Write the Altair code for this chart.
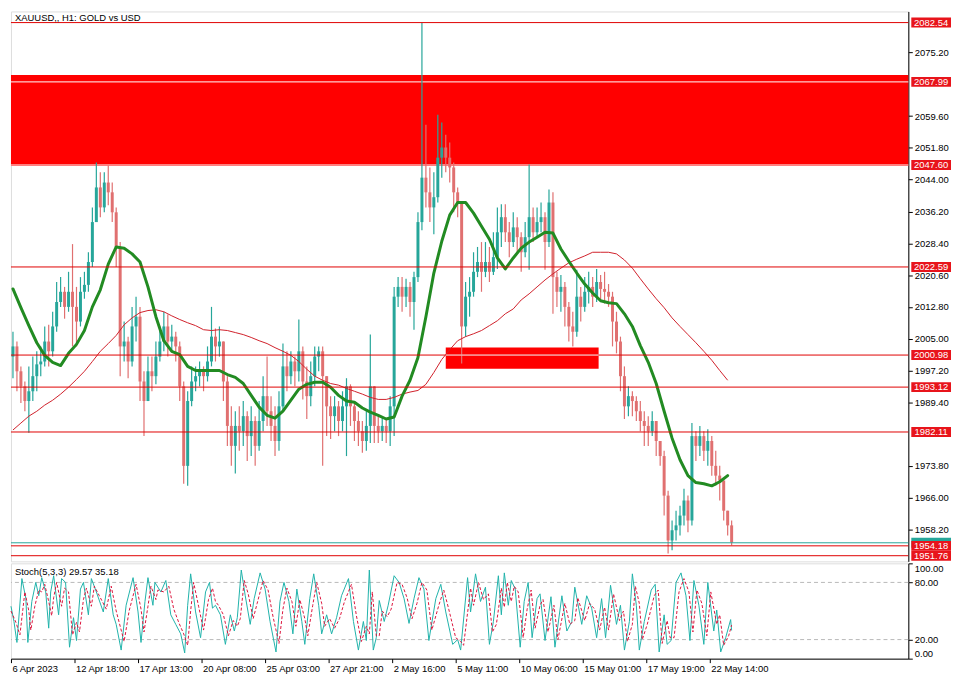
import altair as alt
import pandas as pd

FONT = "Liberation Sans"
UP = "#26A69A"
DOWN = "#E07070"
LVL_RED = "#E00000"
ZONE_RED = "#FF0000"
MA_GREEN = "#228B22"
MA_RED = "#D0202A"

# ---------------- price panel data ----------------
price_domain = [1950.37, 2085.27]
price_ticks = [1958.20, 1966.00, 1973.80, 1989.40, 1997.20, 2005.00, 2012.80, 2020.60,
               2028.40, 2036.20, 2044.00, 2051.80, 2059.60, 2075.20]

first_open = 2000.6
closes = [2003.1, 1997.0, 1993.3, 1989.7, 1992.1, 1995.8, 1998.7, 1999.4, 2004.3, 2001.9,
          2008.0, 2014.0, 2016.5, 2012.8, 2016.5, 2012.8, 2009.2, 2016.5, 2018.2, 2023.8,
          2033.6, 2042.1, 2037.2, 2043.3, 2040.9, 2036.0, 2027.5, 2003.1, 2004.3, 1999.4,
          2008.0, 2010.4, 1994.5, 1989.7, 1997.0, 1995.8, 2000.6, 2004.3, 2008.0, 2004.3,
          2005.5, 2003.1, 1993.3, 1973.8, 1989.7, 1994.5, 1995.8, 1997.0, 1995.8, 1999.4,
          2005.5, 2003.1, 2004.3, 1994.5, 1983.6, 1978.7, 1983.6, 1982.3, 1986.0, 1981.1,
          1984.8, 1978.7, 1984.8, 1990.9, 1987.2, 1983.6, 1979.9, 1988.4, 1998.2, 1995.8,
          1999.4, 1997.0, 2001.9, 1994.5, 1990.9, 1995.8, 2000.6, 2001.9, 1995.8, 1988.4,
          1986.0, 1988.4, 1984.8, 1988.4, 1993.3, 1988.4, 1984.8, 1982.3, 1979.9, 1983.6,
          1993.3, 1983.6, 1982.3, 1983.6, 1982.3, 1988.4, 2015.3, 2017.7, 2015.3, 2017.7,
          2014.0, 2020.1, 2033.6, 2044.5, 2040.9, 2037.2, 2039.7, 2049.4, 2051.9, 2049.4,
          2047.0, 2040.9, 2038.4, 2008.0, 2015.3, 2016.5, 2021.4, 2023.8, 2021.4, 2023.8,
          2021.4, 2025.0, 2031.1, 2034.8, 2031.1, 2028.7, 2032.3, 2029.9, 2026.2, 2029.9,
          2034.8, 2031.1, 2033.6, 2034.8, 2028.7, 2038.4, 2020.1, 2016.5, 2017.7, 2012.8,
          2008.0, 2006.7, 2015.3, 2012.8, 2016.5, 2017.7, 2015.3, 2018.9, 2017.2, 2016.5,
          2015.3, 2009.2, 2004.3, 1995.8, 1988.4, 1990.9, 1989.7, 1987.2, 1984.8, 1983.6,
          1982.3, 1984.8, 1979.9, 1976.2, 1966.5, 1955.5, 1958.0, 1959.2, 1961.6, 1965.3,
          1960.4, 1981.1, 1978.7, 1981.1, 1977.5, 1979.9, 1973.8, 1971.4, 1970.2, 1962.8,
          1959.2, 1955.0]
highs = [2006.7, 2004.3, 1998.2, 1994.5, 1998.2, 2000.6, 2001.9, 2003.1, 2008.0, 2008.4,
         2011.6, 2018.9, 2020.1, 2017.7, 2021.4, 2028.2, 2017.7, 2020.1, 2021.4, 2026.2,
         2037.2, 2048.2, 2045.8, 2045.8, 2047.5, 2043.3, 2037.2, 2028.7, 2009.2, 2005.5,
         2012.8, 2015.3, 2012.8, 1997.0, 2000.6, 2000.6, 2004.3, 2008.0, 2011.6, 2010.9,
         2008.4, 2006.7, 2004.3, 1994.5, 1992.1, 1998.2, 1998.2, 1999.4, 1998.2, 2003.1,
         2012.8, 2007.5, 2008.0, 2004.3, 1995.8, 1988.4, 1987.2, 1988.4, 1989.7, 1987.2,
         1988.4, 1986.0, 1989.7, 1995.8, 2000.6, 1990.9, 1988.4, 1992.1, 2003.8, 2001.9,
         2001.9, 2000.6, 2009.7, 2003.1, 1998.2, 1999.4, 2003.1, 2003.1, 2003.1, 1993.3,
         1990.9, 1990.9, 1989.7, 1992.1, 1995.3, 1993.8, 1989.7, 1987.2, 1984.8, 1987.2,
         2006.0, 1989.7, 1986.0, 1986.0, 1985.5, 1990.9, 2017.7, 2020.1, 2020.1, 2019.7,
         2018.9, 2021.4, 2036.0, 2082.5, 2057.5, 2047.0, 2045.8, 2059.9, 2058.0, 2055.0,
         2053.1, 2048.2, 2042.1, 2038.4, 2018.9, 2020.1, 2026.2, 2027.5, 2028.7, 2028.7,
         2027.5, 2031.1, 2037.2, 2038.0, 2038.0, 2033.6, 2036.0, 2034.8, 2031.1, 2033.6,
         2047.7, 2037.2, 2037.2, 2038.4, 2036.0, 2041.6, 2040.9, 2021.4, 2020.6, 2018.9,
         2014.0, 2011.6, 2021.9, 2017.7, 2020.1, 2021.4, 2020.1, 2022.1, 2020.6, 2021.4,
         2018.4, 2016.5, 2011.6, 2005.5, 1998.2, 1993.3, 1992.1, 1990.9, 1989.7, 1987.2,
         1986.0, 1987.2, 1984.8, 1979.9, 1977.5, 1967.7, 1960.4, 1962.8, 1964.0, 1968.2,
         1966.5, 1984.3, 1982.3, 1983.6, 1982.3, 1982.8, 1981.1, 1977.5, 1973.8, 1965.3,
         1962.8, 1960.4]
lows = [1995.3, 1992.1, 1989.2, 1987.2, 1981.9, 1989.7, 1992.1, 1995.8, 1998.2, 1998.2,
        2000.6, 2006.7, 2012.8, 2009.9, 2011.6, 2003.1, 2003.1, 2008.0, 2014.8, 2016.5,
        2022.6, 2033.6, 2034.8, 2036.0, 2037.7, 2033.6, 2022.6, 1995.8, 1999.4, 1995.3,
        1998.2, 2004.3, 1989.7, 1981.1, 1993.3, 1992.1, 1993.8, 1999.4, 2001.9, 2000.6,
        2001.9, 1999.4, 1989.7, 1969.4, 1968.9, 1988.4, 1992.1, 1993.3, 1992.1, 1994.5,
        1998.2, 1999.4, 2000.6, 1989.7, 1978.7, 1973.8, 1971.9, 1977.5, 1978.7, 1975.0,
        1976.2, 1973.8, 1977.5, 1982.3, 1983.6, 1979.9, 1976.2, 1977.5, 1987.2, 1992.1,
        1993.8, 1993.3, 1994.5, 1990.1, 1985.3, 1988.4, 1993.3, 1997.0, 1973.8, 1981.1,
        1980.4, 1982.3, 1981.1, 1982.3, 1976.2, 1983.6, 1979.9, 1978.7, 1977.0, 1977.5,
        1979.4, 1979.4, 1979.4, 1979.9, 1979.4, 1978.7, 1981.1, 2012.8, 2011.6, 2012.8,
        2010.4, 2007.2, 2018.9, 2031.6, 2037.2, 2033.6, 2030.6, 2038.4, 2044.5, 2045.8,
        2043.3, 2036.0, 2034.8, 1998.9, 2005.5, 2010.4, 2015.3, 2020.1, 2016.5, 2020.1,
        2018.9, 2020.6, 2022.1, 2027.5, 2028.7, 2025.0, 2027.5, 2026.2, 2021.4, 2025.0,
        2021.9, 2028.7, 2029.9, 2031.1, 2021.9, 2027.5, 2011.1, 2012.8, 2011.6, 2008.0,
        2004.3, 2003.1, 2005.5, 2009.2, 2011.6, 2013.6, 2012.8, 2014.0, 2014.0, 2013.6,
        2012.8, 2003.1, 2001.4, 1992.1, 1985.3, 1986.0, 1986.0, 1984.8, 1982.3, 1978.7,
        1978.7, 1981.1, 1976.2, 1973.8, 1961.6, 1952.3, 1953.1, 1955.5, 1956.7, 1959.2,
        1957.5, 1959.2, 1975.0, 1976.2, 1975.0, 1973.8, 1971.4, 1968.9, 1965.3, 1960.4,
        1956.7, 1954.3]

ma_green = [2017.2, 2012.6, 2008.2, 2004.0, 2000.9, 1999.2, 1998.4, 2001.4, 2003.6, 2007.0,
            2012.8, 2017.0, 2023.3, 2027.5, 2027.2, 2025.8, 2023.8, 2017.7, 2010.4, 2004.5,
            2001.9, 2001.1, 1998.2, 1997.2, 1997.2, 1997.2, 1997.2, 1996.2, 1995.5, 1994.0,
            1991.1, 1988.2, 1986.2, 1985.5, 1987.2, 1989.9, 1992.6, 1993.8, 1994.3, 1994.3,
            1993.1, 1991.1, 1989.7, 1989.4, 1988.0, 1987.0, 1986.2, 1985.3, 1985.8, 1990.9,
            1994.8, 2000.4, 2010.4, 2021.1, 2028.9, 2035.3, 2038.4, 2038.4, 2035.8, 2032.6,
            2029.4, 2024.8, 2022.1, 2024.8, 2027.2, 2028.7, 2029.9, 2031.1, 2030.9, 2027.0,
            2024.0, 2021.1, 2018.4, 2016.2, 2014.3, 2013.8, 2013.6, 2011.1, 2008.0, 2003.3,
            1999.2, 1994.0, 1987.2, 1980.6, 1975.3, 1971.4, 1969.7, 1969.4, 1968.9, 1969.9,
            1971.4]
ma_red = [1982.6, 1984.3, 1986.0, 1987.2, 1988.7, 1989.9, 1991.4, 1993.1, 1995.0, 1997.0,
          1999.4, 2001.9, 2003.8, 2005.8, 2008.4, 2010.1, 2011.4, 2011.9, 2012.1, 2011.6,
          2010.6, 2009.7, 2008.9, 2008.2, 2007.2, 2007.0, 2007.2, 2007.0, 2006.5, 2006.0,
          2005.3, 2004.5, 2003.8, 2002.8, 2001.9, 2000.9, 1999.4, 1997.5, 1995.8, 1994.8,
          1994.0, 1993.6, 1992.8, 1992.1, 1991.4, 1990.6, 1990.1, 1990.1, 1990.6, 1991.4,
          1991.9, 1992.3, 1993.8, 1996.7, 1999.9, 2002.3, 2004.5, 2005.5, 2006.2, 2007.0,
          2008.2, 2009.4, 2011.1, 2012.3, 2014.5, 2016.0, 2017.7, 2019.4, 2020.9, 2022.3,
          2023.6, 2024.5, 2025.3, 2026.2, 2026.2, 2026.2, 2025.8, 2024.3, 2022.3, 2019.7,
          2017.2, 2014.8, 2012.6, 2010.1, 2008.0, 2006.0, 2004.0, 2001.9, 1999.7, 1997.2,
          1994.8]

red_levels = [2082.54, 2022.59, 2000.98, 1993.12, 1982.11, 1954.18, 1951.76]
white_levels = [2067.99, 2047.60]
label_levels = [2082.54, 2067.99, 2047.60, 2022.59, 2000.98, 1993.12, 1982.11, 1954.18, 1951.76]
bid_price = 1954.93
zone_big = {"t0": 0, "t1": 904, "lo": 2047.35, "hi": 2069.71}
zone_small = {"t0": 438, "t1": 592, "lo": 1997.62, "hi": 2002.81}
title_text = "XAUUSD,, H1:  GOLD vs USD"

# ---------------- stochastic data ----------------
stoch_t = [0, 3, 6, 11, 15, 17, 21, 25, 28, 31, 35, 38, 40, 43, 48, 51, 55, 59, 63, 66,
           70, 73, 78, 81, 86, 93, 98, 103, 106, 111, 116, 123, 128, 131, 135, 138, 143, 145, 151, 156,
           161, 166, 171, 175, 178, 181, 186, 191, 196, 200, 203, 206, 211, 216, 221, 225, 228, 232, 236, 241,
           245, 251, 256, 261, 267, 271, 275, 280, 284, 288, 293, 296, 301, 305, 310, 313, 318, 323, 328, 333,
           340, 345, 350, 355, 358, 361, 365, 368, 371, 376, 380, 386, 391, 396, 401, 406, 411, 416, 421, 428,
           433, 438, 445, 450, 453, 460, 463, 468, 473, 478, 482, 486, 491, 494, 497, 501, 504, 508, 513, 517,
           521, 525, 530, 533, 538, 544, 548, 555, 560, 565, 568, 575, 580, 585, 590, 595, 599, 604, 610, 614,
           618, 623, 626, 630, 633, 638, 645, 649, 653, 658, 661, 665, 670, 675, 680, 684, 688, 693, 698, 702,
           708, 711, 715, 720, 725, 726]
stoch_k = [55, 39, 17, 84, 63, 17, 60, 80, 66, 85, 70, 32, 70, 87, 46, 84, 80, 12, 43, 19,
           73, 80, 46, 84, 70, 49, 84, 46, 36, 9, 56, 85, 49, 17, 60, 85, 56, 80, 70, 82,
           46, 36, 26, 6, 56, 89, 49, 22, 70, 80, 53, 56, 46, 15, 46, 29, 43, 93, 66, 36,
           63, 90, 73, 39, 7, 60, 80, 60, 26, 73, 39, 15, 63, 89, 56, 26, 46, 26, 43, 66,
           84, 39, 9, 39, 19, 93, 9, 22, 61, 39, 56, 87, 80, 63, 37, 63, 85, 73, 19, 63,
           78, 49, 15, 20, 9, 85, 49, 89, 60, 75, 15, 39, 87, 46, 90, 56, 82, 73, 12, 60,
           80, 22, 63, 68, 19, 65, 12, 66, 29, 39, 75, 36, 66, 53, 22, 63, 22, 77, 36, 56,
           9, 39, 89, 56, 9, 39, 72, 78, 7, 46, 15, 19, 80, 90, 66, 19, 82, 56, 15, 80,
           29, 51, 7, 22, 41, 29.57]
sig_t = [0, 5, 9, 14, 18, 20, 24, 28, 31, 34, 38, 41, 43, 46, 51, 54, 58, 62, 66, 69,
         73, 76, 81, 84, 89, 96, 101, 106, 109, 114, 119, 126, 131, 134, 138, 141, 146, 148, 154, 159,
         164, 169, 174, 178, 181, 184, 189, 194, 199, 203, 206, 209, 214, 219, 224, 228, 231, 235, 239, 244,
         248, 254, 259, 264, 270, 274, 278, 283, 287, 291, 296, 299, 304, 308, 313, 316, 321, 326, 331, 336,
         343, 348, 353, 358, 361, 364, 368, 371, 374, 379, 383, 389, 394, 399, 404, 409, 414, 419, 424, 431,
         436, 441, 448, 453, 456, 463, 466, 471, 476, 481, 485, 489, 494, 497, 500, 504, 507, 511, 516, 520,
         524, 528, 533, 536, 541, 547, 551, 558, 563, 568, 571, 578, 583, 588, 593, 598, 602, 607, 613, 617,
         621, 626, 629, 633, 636, 641, 648, 652, 656, 661, 664, 668, 673, 678, 683, 687, 691, 696, 701, 705,
         711, 714, 718, 723, 726]
sig_d = [50, 38, 25, 70, 50, 30, 55, 72, 70, 78, 60, 45, 64, 80, 55, 74, 70, 25, 38, 28,
         62, 74, 55, 76, 66, 52, 76, 50, 38, 18, 50, 78, 52, 28, 55, 76, 62, 72, 70, 76,
         52, 38, 26, 14, 50, 80, 55, 30, 62, 74, 60, 56, 46, 24, 40, 34, 42, 82, 68, 42,
         58, 82, 72, 44, 16, 52, 74, 60, 34, 62, 42, 24, 56, 80, 58, 34, 42, 32, 42, 60,
         78, 45, 18, 34, 26, 70, 24, 24, 50, 44, 52, 80, 78, 64, 42, 58, 80, 72, 30, 56,
         72, 52, 22, 18, 14, 74, 56, 80, 62, 68, 28, 36, 74, 54, 80, 60, 76, 70, 22, 52,
         72, 32, 56, 62, 28, 56, 20, 58, 36, 40, 64, 40, 58, 52, 30, 54, 30, 68, 40, 50,
         18, 36, 76, 58, 20, 36, 66, 72, 16, 40, 22, 22, 70, 84, 70, 28, 72, 58, 24, 70,
         36, 46, 14, 24, 35.18]
stoch_levels = [20, 80]
stoch_ticks = [0, 20, 80, 100]
stoch_text = "Stoch(5,3,3) 29.57 35.18"

date_ticks = [0, 64, 128, 192, 256, 320, 384, 448, 512, 576, 640, 704]
date_labels = ["6 Apr 2023", "12 Apr 18:00", "17 Apr 13:00", "20 Apr 08:00", "25 Apr 03:00",
               "27 Apr 21:00", "2 May 16:00", "5 May 11:00", "10 May 06:00", "15 May 01:00",
               "17 May 19:00", "22 May 14:00"]

# ---------------- tables ----------------
opens = [first_open] + closes[:-1]
candles = pd.DataFrame({
    "t": [2 + 4 * k for k in range(len(closes))],
    "o": opens,
    "c": closes,
    "h": [max(h, o, c) for h, o, c in zip(highs, opens, closes)],
    "l": [min(l, o, c) for l, o, c in zip(lows, opens, closes)],
})
candles["dir"] = ["up" if c >= o else "down" for o, c in zip(candles["o"], candles["c"])]

ma_g = pd.DataFrame({"t": [2 + 8 * j for j in range(len(ma_green))], "v": ma_green})
ma_r = pd.DataFrame({"t": [2 + 8 * j for j in range(len(ma_red))], "v": ma_red})

HALF = 5 / 4.106  # half label-box height in price units
labels_df = pd.DataFrame({
    "p": label_levels,
    "lo": [v - HALF for v in label_levels],
    "hi": [v + HALF for v in label_levels],
    "lab": [f"{v:.2f}" for v in label_levels],
})
bid_df = pd.DataFrame({"p": [bid_price], "lo": [bid_price - HALF], "hi": [bid_price + HALF]})
zones = pd.DataFrame([zone_big, zone_small])
small_white = pd.DataFrame({"t0": [zone_small["t0"]], "t1": [zone_small["t1"]], "p": [2000.98]})

XS = alt.Scale(domain=[0, 904], nice=False, zero=False)
YS = alt.Scale(domain=price_domain, nice=False, zero=False)
YAX = alt.Axis(orient="right", values=price_ticks, format=".2f", title=None, grid=False,
               tickSize=4, tickColor="black", domainColor="black", labelColor="black",
               labelFont=FONT, labelFontSize=9.5, labelPadding=2, labelFlush=False,
               labelOverlap=False)


def X(f):
    return alt.X(f, scale=XS, axis=None)


def Y(f):
    return alt.Y(f, scale=YS, axis=YAX)


col = alt.Color("dir:N", scale=alt.Scale(domain=["up", "down"], range=[UP, DOWN]), legend=None)

zone_layer = alt.Chart(zones).mark_rect(color=ZONE_RED).encode(
    x=X("t0:Q"), x2="t1:Q", y=Y("lo:Q"), y2="hi:Q")
white_rules = alt.Chart(pd.DataFrame({"p": white_levels})).mark_rule(
    color="white", strokeWidth=1).encode(y=Y("p:Q"))
red_rules = alt.Chart(pd.DataFrame({"p": red_levels})).mark_rule(
    color=LVL_RED, strokeWidth=1).encode(y=Y("p:Q"))
small_white_rule = alt.Chart(small_white).mark_rule(color="white", strokeWidth=1).encode(
    x=X("t0:Q"), x2="t1:Q", y=Y("p:Q"))
bid_rule = alt.Chart(bid_df).mark_rule(color=UP, strokeWidth=1).encode(y=Y("p:Q"))
wicks = alt.Chart(candles).mark_rule(strokeWidth=1.2).encode(
    x=X("t:Q"), y=Y("l:Q"), y2="h:Q", color=col)
bodies = alt.Chart(candles).mark_rule(strokeWidth=3).encode(
    x=X("t:Q"), y=Y("o:Q"), y2="c:Q", color=col)
ma_red_line = alt.Chart(ma_r).mark_line(color=MA_RED, strokeWidth=1).encode(
    x=X("t:Q"), y=Y("v:Q"))
ma_green_line = alt.Chart(ma_g).mark_line(color=MA_GREEN, strokeWidth=3, strokeJoin="round",
                                          strokeCap="round").encode(x=X("t:Q"), y=Y("v:Q"))
bid_box = alt.Chart(bid_df).mark_rect(color=UP).encode(
    x=alt.value(907), x2=alt.value(947), y=Y("lo:Q"), y2="hi:Q")
label_boxes = alt.Chart(labels_df).mark_rect(color="#E8141B").encode(
    x=alt.value(907), x2=alt.value(947), y=Y("lo:Q"), y2="hi:Q")
label_texts = alt.Chart(labels_df).mark_text(
    color="white", font=FONT, fontSize=9.5, align="center", baseline="middle").encode(
    x=alt.value(927), y=Y("p:Q"), text="lab:N")
title = alt.Chart(pd.DataFrame({"s": [title_text]})).mark_text(
    color="black", font=FONT, fontSize=9.5, align="left", baseline="middle").encode(
    x=alt.value(4), y=alt.value(7), text="s:N")

main = alt.layer(
    zone_layer, white_rules, wicks, bodies, ma_red_line, ma_green_line,
    red_rules, small_white_rule, bid_rule, bid_box, label_boxes, label_texts, title
).properties(width=904, height=554)

# ---------------- stochastic panel ----------------
label_expr = "[" + ",".join(f"'{s}'" for s in date_labels) + "][round(datum.value / 64)]"
XAX = alt.Axis(values=date_ticks, labelExpr=label_expr, title=None, grid=False, tickSize=4,
               tickColor="black", domainColor="black", labelColor="black", labelFont=FONT,
               labelFontSize=9.5, labelAlign="left", labelOffset=1, labelPadding=1,
               labelFlush=False, labelOverlap=False, labelBound=False)
SYS = alt.Scale(domain=[0, 100], nice=False, zero=False)
SYAX = alt.Axis(orient="right", values=stoch_ticks, format=".2f", title=None, grid=False,
                tickSize=4, tickColor="black", domainColor="black", labelColor="black",
                labelFont=FONT, labelFontSize=9.5, labelPadding=2, labelFlush=True,
                labelOverlap=False)

k_df = pd.DataFrame({"t": stoch_t, "v": stoch_k})
d_df = pd.DataFrame({"t": sig_t, "v": sig_d})

s_levels = alt.Chart(pd.DataFrame({"v": stoch_levels})).mark_rule(
    color="#B8B8B8", strokeDash=[4, 3], strokeWidth=1).encode(
    y=alt.Y("v:Q", scale=SYS, axis=SYAX))
s_main = alt.Chart(k_df).mark_line(color="#20B2AA", strokeWidth=1).encode(
    x=alt.X("t:Q", scale=XS, axis=XAX), y=alt.Y("v:Q", scale=SYS, axis=SYAX))
s_sig = alt.Chart(d_df).mark_line(color="#DC143C", strokeWidth=1, strokeDash=[3, 2]).encode(
    x=alt.X("t:Q", scale=XS, axis=XAX), y=alt.Y("v:Q", scale=SYS, axis=SYAX))
s_text = alt.Chart(pd.DataFrame({"s": [stoch_text]})).mark_text(
    color="black", font=FONT, fontSize=9.5, align="left", baseline="middle").encode(
    x=alt.value(4), y=alt.value(9), text="s:N")

stoch = alt.layer(s_levels, s_main, s_sig, s_text).properties(width=904, height=96)

chart = alt.vconcat(main, stoch, spacing=2, bounds="flush").properties(
    padding={"left": 0, "top": 0, "right": 0, "bottom": 0}
).configure_view(stroke="black", strokeWidth=1).configure(background="white")

chart.save("out.html", embed_options={"renderer": "svg", "actions": False})
